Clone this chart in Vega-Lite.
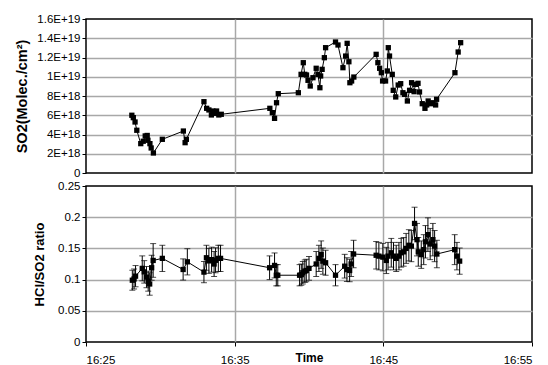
{
  "$schema": "https://vega.github.io/schema/vega-lite/v6.json",
  "background": "white",
  "padding": {"left": 14, "top": 12, "right": 2, "bottom": 0},
  "spacing": 13,
  "bounds": "flush",
  "config": {
    "font": "Liberation Sans",
    "view": {"stroke": "black", "strokeWidth": 1.5},
    "axis": {
      "labelFont": "Liberation Sans", "labelFontSize": 11.5, "labelColor": "black",
      "tickColor": "black", "tickSize": 4, "labelPadding": 2,
      "domainColor": "black", "gridColor": "#a8a8a8", "gridWidth": 1.5,
      "titleFont": "Liberation Sans", "titleFontSize": 13, "titleFontWeight": "bold", "titleColor": "black"
    }
  },
  "datasets": {
    "so2": [
      {"time": "2000-01-01T16:28:05", "so2": 6.0e18},
      {"time": "2000-01-01T16:28:11", "so2": 5.75e18},
      {"time": "2000-01-01T16:28:18", "so2": 5.3e18},
      {"time": "2000-01-01T16:28:25", "so2": 4.44e18},
      {"time": "2000-01-01T16:28:41", "so2": 3.05e18},
      {"time": "2000-01-01T16:28:51", "so2": 3.3e18},
      {"time": "2000-01-01T16:28:59", "so2": 3.85e18},
      {"time": "2000-01-01T16:29:07", "so2": 3.9e18},
      {"time": "2000-01-01T16:29:10", "so2": 3.4e18},
      {"time": "2000-01-01T16:29:18", "so2": 3.05e18},
      {"time": "2000-01-01T16:29:23", "so2": 2.6e18},
      {"time": "2000-01-01T16:29:32", "so2": 2.08e18},
      {"time": "2000-01-01T16:30:08", "so2": 3.5e18},
      {"time": "2000-01-01T16:31:33", "so2": 4.36e18},
      {"time": "2000-01-01T16:31:40", "so2": 3.15e18},
      {"time": "2000-01-01T16:31:45", "so2": 3.5e18},
      {"time": "2000-01-01T16:32:56", "so2": 7.41e18},
      {"time": "2000-01-01T16:33:07", "so2": 6.72e18},
      {"time": "2000-01-01T16:33:16", "so2": 6.55e18},
      {"time": "2000-01-01T16:33:26", "so2": 6.03e18},
      {"time": "2000-01-01T16:33:32", "so2": 6.44e18},
      {"time": "2000-01-01T16:33:39", "so2": 6.2e18},
      {"time": "2000-01-01T16:33:47", "so2": 6.44e18},
      {"time": "2000-01-01T16:33:56", "so2": 6.03e18},
      {"time": "2000-01-01T16:34:06", "so2": 6.1e18},
      {"time": "2000-01-01T16:37:22", "so2": 6.72e18},
      {"time": "2000-01-01T16:37:32", "so2": 6.27e18},
      {"time": "2000-01-01T16:37:41", "so2": 5.68e18},
      {"time": "2000-01-01T16:37:49", "so2": 7.3e18},
      {"time": "2000-01-01T16:37:56", "so2": 8.24e18},
      {"time": "2000-01-01T16:39:17", "so2": 8.34e18},
      {"time": "2000-01-01T16:39:28", "so2": 10.25e18},
      {"time": "2000-01-01T16:39:37", "so2": 11.46e18},
      {"time": "2000-01-01T16:39:43", "so2": 10.25e18},
      {"time": "2000-01-01T16:39:50", "so2": 10.18e18},
      {"time": "2000-01-01T16:39:56", "so2": 9.63e18},
      {"time": "2000-01-01T16:40:05", "so2": 9.04e18},
      {"time": "2000-01-01T16:40:16", "so2": 9.9e18},
      {"time": "2000-01-01T16:40:29", "so2": 10.88e18},
      {"time": "2000-01-01T16:40:36", "so2": 10.25e18},
      {"time": "2000-01-01T16:40:44", "so2": 8.86e18},
      {"time": "2000-01-01T16:40:47", "so2": 10.08e18},
      {"time": "2000-01-01T16:40:53", "so2": 10.77e18},
      {"time": "2000-01-01T16:41:02", "so2": 11.98e18},
      {"time": "2000-01-01T16:41:07", "so2": 13.02e18},
      {"time": "2000-01-01T16:41:47", "so2": 13.61e18},
      {"time": "2000-01-01T16:41:57", "so2": 13.3e18},
      {"time": "2000-01-01T16:42:17", "so2": 10.94e18},
      {"time": "2000-01-01T16:42:28", "so2": 12.15e18},
      {"time": "2000-01-01T16:42:34", "so2": 13.47e18},
      {"time": "2000-01-01T16:42:41", "so2": 11.56e18},
      {"time": "2000-01-01T16:42:45", "so2": 9.38e18},
      {"time": "2000-01-01T16:42:52", "so2": 9.56e18},
      {"time": "2000-01-01T16:43:01", "so2": 9.97e18},
      {"time": "2000-01-01T16:44:31", "so2": 12.33e18},
      {"time": "2000-01-01T16:44:38", "so2": 11.46e18},
      {"time": "2000-01-01T16:44:45", "so2": 10.88e18},
      {"time": "2000-01-01T16:44:52", "so2": 10.42e18},
      {"time": "2000-01-01T16:44:57", "so2": 9.56e18},
      {"time": "2000-01-01T16:45:09", "so2": 9.56e18},
      {"time": "2000-01-01T16:45:16", "so2": 10.6e18},
      {"time": "2000-01-01T16:45:20", "so2": 13.02e18},
      {"time": "2000-01-01T16:45:25", "so2": 12.15e18},
      {"time": "2000-01-01T16:45:36", "so2": 10.25e18},
      {"time": "2000-01-01T16:45:40", "so2": 8.59e18},
      {"time": "2000-01-01T16:45:50", "so2": 7.9e18},
      {"time": "2000-01-01T16:46:00", "so2": 9.14e18},
      {"time": "2000-01-01T16:46:10", "so2": 9.28e18},
      {"time": "2000-01-01T16:46:19", "so2": 8.34e18},
      {"time": "2000-01-01T16:46:26", "so2": 8.17e18},
      {"time": "2000-01-01T16:46:37", "so2": 7.48e18},
      {"time": "2000-01-01T16:46:46", "so2": 8.59e18},
      {"time": "2000-01-01T16:46:54", "so2": 9.38e18},
      {"time": "2000-01-01T16:47:04", "so2": 8.45e18},
      {"time": "2000-01-01T16:47:10", "so2": 9.21e18},
      {"time": "2000-01-01T16:47:20", "so2": 9.32e18},
      {"time": "2000-01-01T16:47:26", "so2": 8.42e18},
      {"time": "2000-01-01T16:47:37", "so2": 7.2e18},
      {"time": "2000-01-01T16:47:48", "so2": 6.72e18},
      {"time": "2000-01-01T16:47:55", "so2": 7.07e18},
      {"time": "2000-01-01T16:48:01", "so2": 7.48e18},
      {"time": "2000-01-01T16:48:11", "so2": 7.2e18},
      {"time": "2000-01-01T16:48:20", "so2": 7.3e18},
      {"time": "2000-01-01T16:48:31", "so2": 7.07e18},
      {"time": "2000-01-01T16:48:35", "so2": 7.66e18},
      {"time": "2000-01-01T16:49:49", "so2": 10.42e18},
      {"time": "2000-01-01T16:50:02", "so2": 12.57e18},
      {"time": "2000-01-01T16:50:12", "so2": 13.54e18}
    ],
    "ratio": [
      {"time": "2000-01-01T16:28:07", "ratio": 0.099, "err": 0.016},
      {"time": "2000-01-01T16:28:14", "ratio": 0.101, "err": 0.016},
      {"time": "2000-01-01T16:28:20", "ratio": 0.1055, "err": 0.017},
      {"time": "2000-01-01T16:28:47", "ratio": 0.118, "err": 0.02},
      {"time": "2000-01-01T16:28:55", "ratio": 0.1124, "err": 0.018},
      {"time": "2000-01-01T16:29:04", "ratio": 0.104, "err": 0.017},
      {"time": "2000-01-01T16:29:11", "ratio": 0.0975, "err": 0.016},
      {"time": "2000-01-01T16:29:17", "ratio": 0.093, "err": 0.018},
      {"time": "2000-01-01T16:29:25", "ratio": 0.119, "err": 0.02},
      {"time": "2000-01-01T16:29:31", "ratio": 0.1307, "err": 0.027},
      {"time": "2000-01-01T16:30:08", "ratio": 0.134, "err": 0.021},
      {"time": "2000-01-01T16:31:32", "ratio": 0.1162, "err": 0.017},
      {"time": "2000-01-01T16:31:49", "ratio": 0.1285, "err": 0.021},
      {"time": "2000-01-01T16:32:56", "ratio": 0.112, "err": 0.017},
      {"time": "2000-01-01T16:33:06", "ratio": 0.135, "err": 0.02},
      {"time": "2000-01-01T16:33:16", "ratio": 0.13, "err": 0.02},
      {"time": "2000-01-01T16:33:27", "ratio": 0.132, "err": 0.02},
      {"time": "2000-01-01T16:33:37", "ratio": 0.125, "err": 0.02},
      {"time": "2000-01-01T16:33:43", "ratio": 0.131, "err": 0.02},
      {"time": "2000-01-01T16:33:54", "ratio": 0.134, "err": 0.021},
      {"time": "2000-01-01T16:34:03", "ratio": 0.134, "err": 0.021},
      {"time": "2000-01-01T16:37:21", "ratio": 0.119, "err": 0.019},
      {"time": "2000-01-01T16:37:41", "ratio": 0.1227, "err": 0.02},
      {"time": "2000-01-01T16:37:48", "ratio": 0.107, "err": 0.017},
      {"time": "2000-01-01T16:37:54", "ratio": 0.107, "err": 0.017},
      {"time": "2000-01-01T16:39:22", "ratio": 0.107, "err": 0.017},
      {"time": "2000-01-01T16:39:29", "ratio": 0.108, "err": 0.017},
      {"time": "2000-01-01T16:39:35", "ratio": 0.111, "err": 0.018},
      {"time": "2000-01-01T16:39:43", "ratio": 0.1135, "err": 0.018},
      {"time": "2000-01-01T16:39:49", "ratio": 0.1146, "err": 0.018},
      {"time": "2000-01-01T16:40:00", "ratio": 0.118, "err": 0.019},
      {"time": "2000-01-01T16:40:29", "ratio": 0.125, "err": 0.02},
      {"time": "2000-01-01T16:40:40", "ratio": 0.134, "err": 0.021},
      {"time": "2000-01-01T16:40:49", "ratio": 0.14, "err": 0.022},
      {"time": "2000-01-01T16:40:56", "ratio": 0.1296, "err": 0.021},
      {"time": "2000-01-01T16:41:07", "ratio": 0.127, "err": 0.02},
      {"time": "2000-01-01T16:41:47", "ratio": 0.107, "err": 0.017},
      {"time": "2000-01-01T16:42:24", "ratio": 0.1215, "err": 0.019},
      {"time": "2000-01-01T16:42:33", "ratio": 0.116, "err": 0.019},
      {"time": "2000-01-01T16:42:44", "ratio": 0.1146, "err": 0.018},
      {"time": "2000-01-01T16:42:50", "ratio": 0.125, "err": 0.02},
      {"time": "2000-01-01T16:43:00", "ratio": 0.141, "err": 0.022},
      {"time": "2000-01-01T16:44:31", "ratio": 0.139, "err": 0.022},
      {"time": "2000-01-01T16:44:42", "ratio": 0.1376, "err": 0.022},
      {"time": "2000-01-01T16:44:58", "ratio": 0.136, "err": 0.022},
      {"time": "2000-01-01T16:45:12", "ratio": 0.1307, "err": 0.021},
      {"time": "2000-01-01T16:45:19", "ratio": 0.1376, "err": 0.022},
      {"time": "2000-01-01T16:45:32", "ratio": 0.143, "err": 0.023},
      {"time": "2000-01-01T16:45:41", "ratio": 0.1376, "err": 0.022},
      {"time": "2000-01-01T16:45:52", "ratio": 0.134, "err": 0.021},
      {"time": "2000-01-01T16:46:03", "ratio": 0.1376, "err": 0.022},
      {"time": "2000-01-01T16:46:12", "ratio": 0.143, "err": 0.023},
      {"time": "2000-01-01T16:46:22", "ratio": 0.1445, "err": 0.023},
      {"time": "2000-01-01T16:46:32", "ratio": 0.15, "err": 0.024},
      {"time": "2000-01-01T16:46:43", "ratio": 0.155, "err": 0.025},
      {"time": "2000-01-01T16:46:53", "ratio": 0.1537, "err": 0.025},
      {"time": "2000-01-01T16:47:06", "ratio": 0.19, "err": 0.026},
      {"time": "2000-01-01T16:47:16", "ratio": 0.164, "err": 0.026},
      {"time": "2000-01-01T16:47:21", "ratio": 0.1445, "err": 0.023},
      {"time": "2000-01-01T16:47:33", "ratio": 0.14, "err": 0.022},
      {"time": "2000-01-01T16:47:43", "ratio": 0.148, "err": 0.024},
      {"time": "2000-01-01T16:47:50", "ratio": 0.1606, "err": 0.026},
      {"time": "2000-01-01T16:48:00", "ratio": 0.172, "err": 0.027},
      {"time": "2000-01-01T16:48:09", "ratio": 0.157, "err": 0.025},
      {"time": "2000-01-01T16:48:20", "ratio": 0.164, "err": 0.026},
      {"time": "2000-01-01T16:48:27", "ratio": 0.1537, "err": 0.025},
      {"time": "2000-01-01T16:48:36", "ratio": 0.141, "err": 0.022},
      {"time": "2000-01-01T16:49:48", "ratio": 0.148, "err": 0.024},
      {"time": "2000-01-01T16:49:57", "ratio": 0.1376, "err": 0.022},
      {"time": "2000-01-01T16:50:08", "ratio": 0.1296, "err": 0.021}
    ]
  },
  "vconcat": [
    {
      "width": 446,
      "height": 154,
      "data": {"name": "so2"},
      "encoding": {
        "x": {
          "field": "time", "type": "temporal",
          "scale": {"domain": [
            {"year": 2000, "month": 1, "date": 1, "hours": 16, "minutes": 25},
            {"year": 2000, "month": 1, "date": 1, "hours": 16, "minutes": 55}
          ]},
          "axis": {
            "values": [
              {"year": 2000, "month": 1, "date": 1, "hours": 16, "minutes": 25},
              {"year": 2000, "month": 1, "date": 1, "hours": 16, "minutes": 35},
              {"year": 2000, "month": 1, "date": 1, "hours": 16, "minutes": 45},
              {"year": 2000, "month": 1, "date": 1, "hours": 16, "minutes": 55}
            ],
            "labels": false, "ticks": false, "domain": false, "title": null, "grid": true,
            "gridOpacity": {"condition": {"test": "minutes(datum.value) == 25 || minutes(datum.value) == 55", "value": 0}, "value": 1}
          }
        },
        "y": {
          "field": "so2", "type": "quantitative",
          "scale": {"domain": [0, 1.6e19], "nice": false},
          "axis": {
            "values": [0, 2e18, 4e18, 6e18, 8e18, 1e19, 1.2e19, 1.4e19, 1.6e19],
            "labelExpr": "datum.value == 0 ? '0' : replace(format(datum.value, '.2~e'), 'e', 'E')",
            "title": "SO2(Molec./cm²)", "titleFontSize": 14.5, "titlePadding": 7, "domain": false, "grid": true,
            "gridOpacity": {"condition": {"test": "datum.value == 0 || datum.value >= 1.6e19", "value": 0}, "value": 1}
          }
        }
      },
      "layer": [
        {"mark": {"type": "line", "color": "black", "strokeWidth": 1}},
        {"mark": {"type": "point", "shape": "square", "filled": true, "color": "black", "size": 28, "opacity": 1}}
      ]
    },
    {
      "width": 446,
      "height": 156,
      "data": {"name": "ratio"},
      "encoding": {
        "x": {
          "field": "time", "type": "temporal",
          "scale": {"domain": [
            {"year": 2000, "month": 1, "date": 1, "hours": 16, "minutes": 25},
            {"year": 2000, "month": 1, "date": 1, "hours": 16, "minutes": 55}
          ]},
          "axis": {
            "values": [
              {"year": 2000, "month": 1, "date": 1, "hours": 16, "minutes": 25},
              {"year": 2000, "month": 1, "date": 1, "hours": 16, "minutes": 35},
              {"year": 2000, "month": 1, "date": 1, "hours": 16, "minutes": 45},
              {"year": 2000, "month": 1, "date": 1, "hours": 16, "minutes": 55}
            ],
            "format": "%H:%M", "title": "Time", "titleFontSize": 12, "titlePadding": -13, "domain": false, "grid": true,
            "labelPadding": 8,
            "gridOpacity": {"condition": {"test": "minutes(datum.value) == 25 || minutes(datum.value) == 55", "value": 0}, "value": 1}
          }
        },
        "y": {
          "field": "ratio", "type": "quantitative",
          "scale": {"domain": [0, 0.25], "nice": false},
          "axis": {
            "values": [0, 0.05, 0.1, 0.15, 0.2, 0.25],
            "format": ".2~f",
            "title": "HCl/SO2 ratio", "titlePadding": 11, "domain": false, "grid": true,
            "gridOpacity": {"condition": {"test": "datum.value == 0 || datum.value >= 0.25", "value": 0}, "value": 1}
          }
        }
      },
      "layer": [
        {
          "mark": {"type": "errorbar", "ticks": {"size": 6, "color": "black"}, "color": "black", "thickness": 1},
          "encoding": {"yError": {"field": "err"}}
        },
        {"mark": {"type": "line", "color": "black", "strokeWidth": 1}},
        {"mark": {"type": "point", "shape": "square", "filled": true, "color": "black", "size": 28, "opacity": 1}}
      ]
    }
  ]
}
